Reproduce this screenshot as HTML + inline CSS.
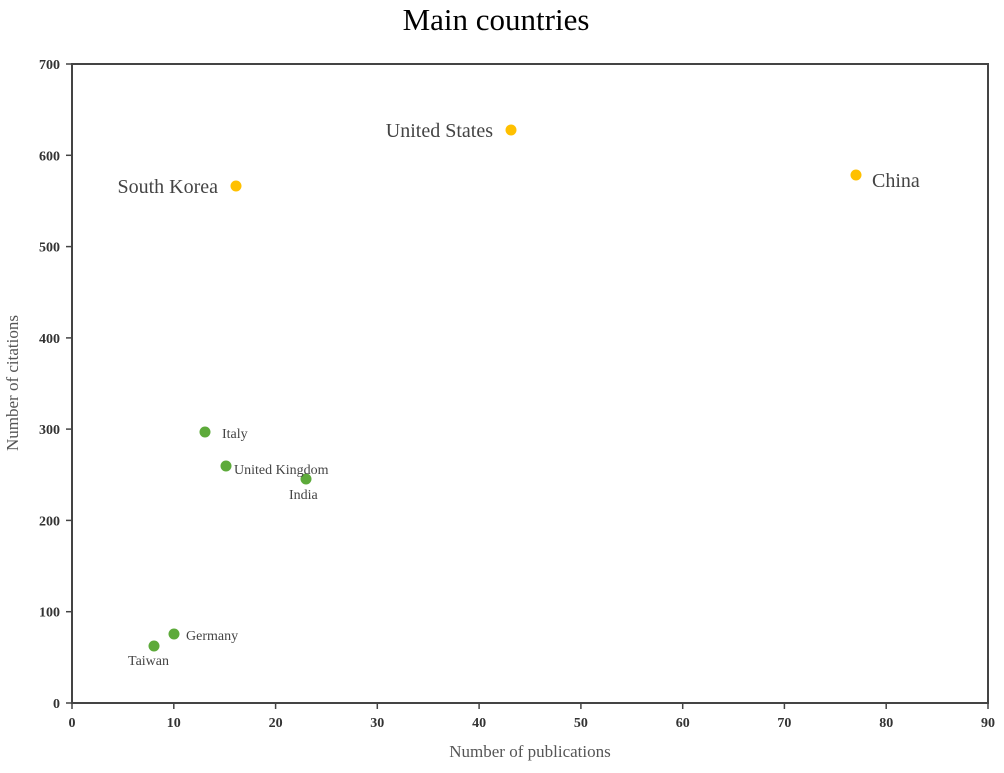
<!DOCTYPE html>
<html><head><meta charset="utf-8"><style>body{margin:0;background:#fff}</style></head>
<body>
<svg width="1004" height="768" xmlns="http://www.w3.org/2000/svg" font-family="Liberation Serif, serif">
<rect width="1004" height="768" fill="#fff"/>
<text x="496" y="30" font-size="31" text-anchor="middle" fill="#000">Main countries</text>
<rect x="72" y="64" width="916" height="639" fill="none" stroke="#444" stroke-width="2"/>
<g stroke="#444" stroke-width="1.5">
<line x1="66" y1="703" x2="72" y2="703"/><line x1="66" y1="611.7" x2="72" y2="611.7"/><line x1="66" y1="520.4" x2="72" y2="520.4"/><line x1="66" y1="429.1" x2="72" y2="429.1"/><line x1="66" y1="337.9" x2="72" y2="337.9"/><line x1="66" y1="246.6" x2="72" y2="246.6"/><line x1="66" y1="155.3" x2="72" y2="155.3"/><line x1="66" y1="64" x2="72" y2="64"/>
<line x1="72" y1="703" x2="72" y2="709"/><line x1="173.8" y1="703" x2="173.8" y2="709"/><line x1="275.6" y1="703" x2="275.6" y2="709"/><line x1="377.3" y1="703" x2="377.3" y2="709"/><line x1="479.1" y1="703" x2="479.1" y2="709"/><line x1="580.9" y1="703" x2="580.9" y2="709"/><line x1="682.7" y1="703" x2="682.7" y2="709"/><line x1="784.4" y1="703" x2="784.4" y2="709"/><line x1="886.2" y1="703" x2="886.2" y2="709"/><line x1="988" y1="703" x2="988" y2="709"/>
</g>
<g font-size="14" fill="#333" text-anchor="end" font-weight="bold">
<text x="60" y="708">0</text><text x="60" y="616.7">100</text><text x="60" y="525.4">200</text><text x="60" y="434.1">300</text><text x="60" y="342.9">400</text><text x="60" y="251.6">500</text><text x="60" y="160.3">600</text><text x="60" y="69">700</text>
</g>
<g font-size="14" fill="#333" text-anchor="middle" font-weight="bold">
<text x="72" y="727">0</text><text x="173.8" y="727">10</text><text x="275.6" y="727">20</text><text x="377.3" y="727">30</text><text x="479.1" y="727">40</text><text x="580.9" y="727">50</text><text x="682.7" y="727">60</text><text x="784.4" y="727">70</text><text x="886.2" y="727">80</text><text x="988" y="727">90</text>
</g>
<text x="530" y="757" font-size="17" fill="#555" text-anchor="middle">Number of publications</text>
<text transform="translate(18,383) rotate(-90)" font-size="17" fill="#555" text-anchor="middle">Number of citations</text>
<g fill="#FFC000">
<circle cx="511" cy="130" r="5.5"/><circle cx="236" cy="186" r="5.5"/><circle cx="856" cy="175" r="5.5"/>
</g>
<g fill="#5DAA3A">
<circle cx="205" cy="432" r="5.5"/><circle cx="226" cy="466" r="5.5"/><circle cx="306" cy="479" r="5.5"/><circle cx="174" cy="634" r="5.5"/><circle cx="154" cy="646" r="5.5"/>
</g>
<g fill="#444" font-size="20">
<text x="493" y="137" text-anchor="end">United States</text>
<text x="218" y="193" text-anchor="end">South Korea</text>
<text x="872" y="187">China</text>
</g>
<g fill="#444" font-size="14">
<text x="222" y="438">Italy</text>
<text x="234" y="474">United Kingdom</text>
<text x="289" y="499">India</text>
<text x="186" y="640">Germany</text>
<text x="128" y="665">Taiwan</text>
</g>
</svg>
</body></html>
